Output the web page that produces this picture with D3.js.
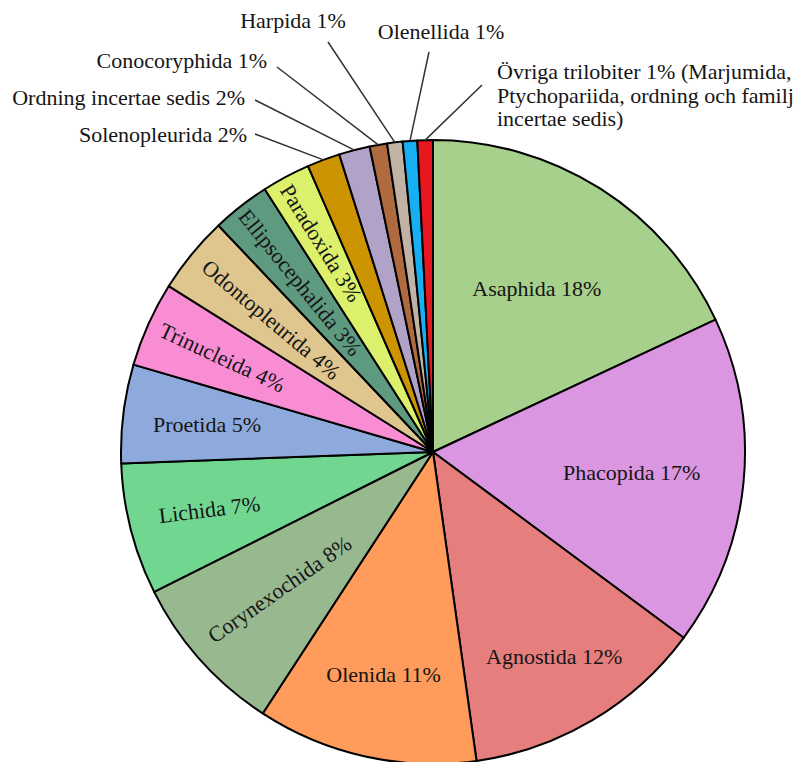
<!doctype html>
<html lang="sv">
<head>
<meta charset="UTF-8" />
<title>Trilobitordningar</title>
<script src="https://d3js.org/d3.v7.min.js"></script>
<style>
  body { margin: 0; background: #fff; }
  svg text { font-family: "Liberation Serif", "Times New Roman", serif; font-size: 22px; fill: #151515; }
</style>
</head>
<body>
<svg id="pie" width="794" height="762"></svg>
<script>
// ordningar, medurs från toppen
const orders = ["Asaphida", "Phacopida", "Agnostida", "Olenida", "Corynexochida", "Lichida",
  "Proetida", "Trinucleida", "Odontopleurida", "Ellipsocephalida", "Paradoxida",
  "Solenopleurida", "Ordning incertae sedis", "Conocoryphida", "Harpida", "Olenellida",
  "Övriga trilobiter"];
// andelar (%)
const shares = [18.0, 17.1, 12.6, 11.4, 8.4, 6.8, 5.1, 4.4, 4.0, 3.0, 2.5, 1.7, 1.6, 0.9, 0.8, 0.75, 0.8];
// procent som visas i etiketterna
const shownPct = [18, 17, 12, 11, 8, 7, 5, 4, 4, 3, 3, 2, 2, 1, 1, 1, 1];
const colors = ["#a8d08d", "#da96e0", "#e67e7e", "#ff9b5b", "#98b890", "#70d690", "#8ea9db",
  "#f88dd3", "#dec68e", "#5e9a80", "#dcf06b", "#cc9400", "#b1a2c8", "#b06a40", "#c0b2a4",
  "#17aef2", "#e8161e"];

const svg = d3.select("#pie");
const cx = 433, cy = 452, R = 312;

const pie = d3.pie().sort(null).value(d => d.v);
const arcs = pie(orders.map((name, i) => ({ name, v: shares[i], pct: shownPct[i], color: colors[i] })));
const arc = d3.arc().innerRadius(0).outerRadius(R);

const g = svg.append("g").attr("transform", `translate(${cx},${cy})`);

g.selectAll("path")
  .data(arcs)
  .join("path")
  .attr("d", arc)
  .attr("fill", d => d.data.color)
  .attr("stroke", "#000")
  .attr("stroke-width", 2)
  .attr("stroke-linejoin", "round");

// etiketter inne i sektorerna: radie (andel av R) och rotation
const inside = {
  "Asaphida": [0.62, 0], "Phacopida": [0.64, 0], "Agnostida": [0.76, 0], "Olenida": [0.73, 0],
  "Corynexochida": [0.66, -35], "Lichida": [0.74, -7], "Proetida": [0.73, 0],
  "Trinucleida": [0.74, 25], "Odontopleurida": [0.67, 40], "Ellipsocephalida": [0.69, 51],
  "Paradoxida": [0.76, 58]
};

g.selectAll("text.in")
  .data(arcs.filter(d => inside[d.data.name]))
  .join("text")
  .attr("class", "in")
  .attr("text-anchor", "middle")
  .attr("dy", "0.35em")
  .attr("transform", d => {
    const [f, rot] = inside[d.data.name];
    const a = (d.startAngle + d.endAngle) / 2;
    return `translate(${Math.sin(a) * R * f},${-Math.cos(a) * R * f}) rotate(${rot})`;
  })
  .text(d => `${d.data.name} ${d.data.pct}%`);

// små sektorer: etiketter utanför med linjer
const outside = {
  "Solenopleurida": { x: 247, y: 142, anchor: "end", from: [255, 134] },
  "Ordning incertae sedis": { x: 245, y: 105, anchor: "end", from: [255, 100] },
  "Conocoryphida": { x: 267, y: 68, anchor: "end", from: [277, 67] },
  "Harpida": { x: 293, y: 28, anchor: "middle", from: [328, 42] },
  "Olenellida": { x: 441, y: 39, anchor: "middle", from: [429, 52] },
  "Övriga trilobiter": { x: 497, y: 79, anchor: "start", from: [482, 85] }
};
const extraLines = {
  "Övriga trilobiter": [" (Marjumida,", "Ptychopariida, ordning och familj", "incertae sedis)"]
};

const edge = d3.arc().innerRadius(R).outerRadius(R);
const small = arcs.filter(d => outside[d.data.name]);

svg.append("g")
  .selectAll("line")
  .data(small)
  .join("line")
  .attr("x1", d => outside[d.data.name].from[0])
  .attr("y1", d => outside[d.data.name].from[1])
  .attr("x2", d => cx + edge.centroid(d)[0])
  .attr("y2", d => cy + edge.centroid(d)[1])
  .attr("stroke", "#333")
  .attr("stroke-width", 1.5);

const ot = svg.append("g")
  .selectAll("text")
  .data(small)
  .join("text")
  .attr("x", d => outside[d.data.name].x)
  .attr("y", d => outside[d.data.name].y)
  .attr("text-anchor", d => outside[d.data.name].anchor);

ot.each(function (d) {
  const t = d3.select(this);
  const extra = extraLines[d.data.name];
  const first = `${d.data.name} ${d.data.pct}%` + (extra ? extra[0] : "");
  t.append("tspan").text(first);
  if (extra) {
    extra.slice(1).forEach(line => {
      t.append("tspan").attr("x", outside[d.data.name].x).attr("dy", 23.5).text(line);
    });
  }
});
</script>
</body>
</html>
